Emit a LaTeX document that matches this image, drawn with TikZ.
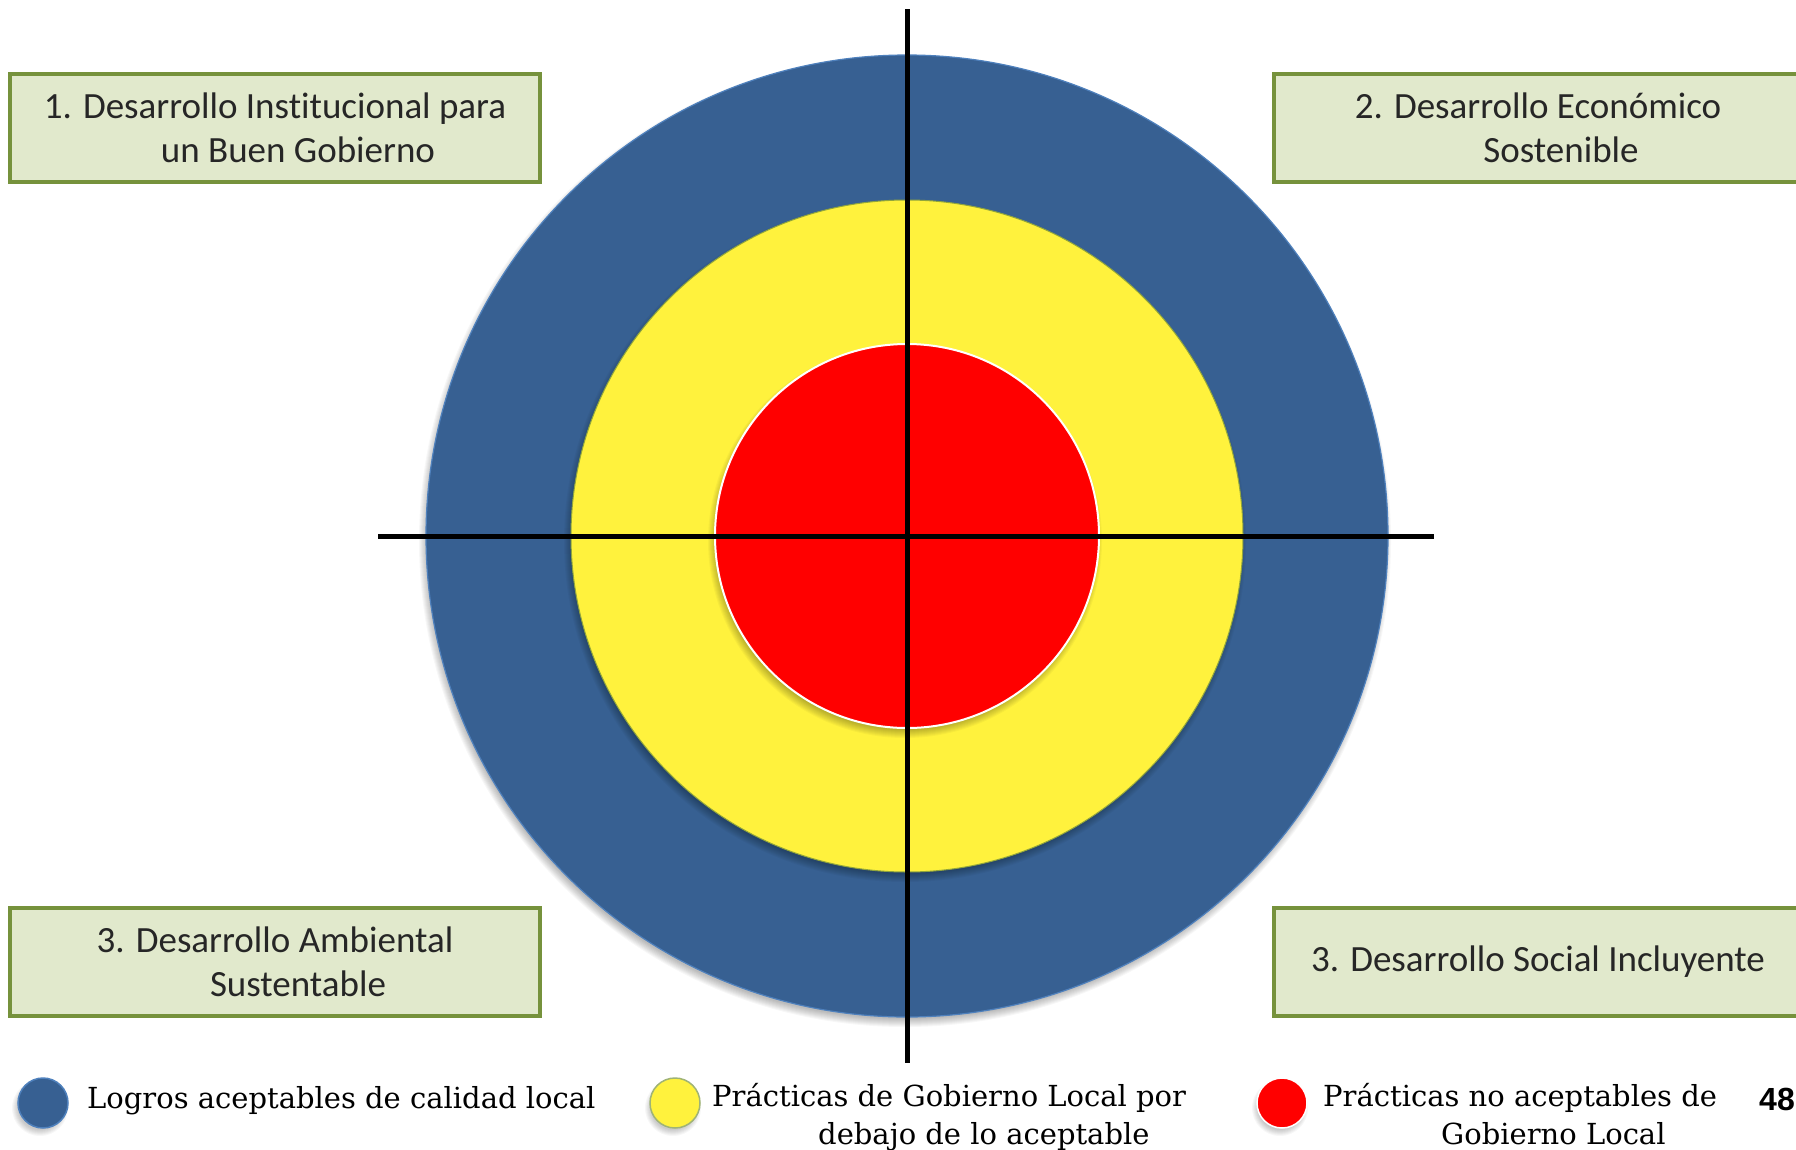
\documentclass[tikz,border=0pt]{standalone}
\usepackage{fontspec}
\setmainfont[Ligatures=NoCommon]{Carlito}
\newfontfamily\legfont{DejaVu Serif}
\newfontfamily\numfont{Liberation Sans}
\usetikzlibrary{positioning}
\definecolor{ringblue}{HTML}{376092}
\definecolor{ringblueedge}{HTML}{4F81BD}
\definecolor{ringyellow}{HTML}{FFF23D}
\definecolor{ringred}{HTML}{FF0000}
\definecolor{boxfill}{HTML}{E1E9CC}
\definecolor{boxedge}{HTML}{76923C}
\definecolor{txt}{HTML}{262626}
\newcommand{\softshade}[4]{% x y r spread
  \foreach \k in {0,...,#4} {\fill[black, opacity=0.03] (#1-2,#2+5) circle (#3+\k);}}
\tikzset{
  x=1pt,y=-1pt,
  areabox/.style={draw=boxedge, line width=4pt, fill=boxfill, minimum height=108pt,
    text=txt, font=\fontsize{37}{44}\selectfont, align=center, inner sep=0pt},
  legdot/.style={circle, minimum size=50pt, inner sep=0pt, line width=1.5pt},
  legtext/.style={font=\legfont\fontsize{29}{38}\selectfont, text=black, align=left, inner sep=0pt},
  axis/.style={line width=5pt, black},
}
\begin{document}
\begin{tikzpicture}
\useasboundingbox (0,0) rectangle (1796,1149);
\fill[white] (0,0) rectangle (1796,1149);
% rings with soft shadows
\softshade{907}{536}{478}{8}
\fill[ringblue, draw=ringblueedge, line width=1.2pt] (907,536) circle (481);
\softshade{907}{536}{333}{8}
\fill[ringyellow, draw=boxedge!80!ringyellow, line width=1pt] (907,536) circle (336);
\softshade{907}{536}{189}{8}
\fill[ringred, draw=white, line width=2pt] (907,536) circle (192);
\node[circle, minimum size=962pt, inner sep=0pt] (target) at (907,536) {};
% axes
\coordinate (vtop) at (907,9);
\coordinate (vbot) at (907,1063);
\coordinate (hleft) at (378,536);
\coordinate (hright) at (1434,536);
\draw[axis] (vtop) -- (vbot);
\draw[axis] (hleft) -- (hright);
% boxes
\node[areabox, minimum width=530pt] (b1) at (275,127.5) {1. Desarrollo Institucional para\\\hspace*{46pt}un Buen Gobierno};
\node[areabox, minimum width=528pt] (b2) at (1538,127.5) {2. Desarrollo Económico\\\hspace*{46pt}Sostenible};
\node[areabox, minimum width=530pt] (b3) at (275,961.5) {3. Desarrollo Ambiental\\\hspace*{46pt}Sustentable};
\node[areabox, minimum width=528pt] (b4) at (1538,961.5) {3. Desarrollo Social Incluyente};
% legend
\softshade{42}{1103}{22}{6}
\node[legdot, fill=ringblue, draw=ringblueedge] (l1) at (43,1103) {};
\softshade{675}{1103}{22}{6}
\node[legdot, fill=ringyellow, draw=boxedge!70] (l2) at (675,1103) {};
\softshade{1282}{1103}{22}{6}
\node[legdot, fill=ringred, draw=white] (l3) at (1282,1103) {};
\node[legtext, anchor=west] (t1) at (87,1101) {Logros aceptables de calidad local};
\node[legtext, anchor=north west] (t2) at (712,1083) {Prácticas de Gobierno Local por\\\hspace*{106pt}debajo de lo aceptable};
\node[legtext, anchor=north west] (t3) at (1323,1083) {Prácticas no aceptables de\\\hspace*{118pt}Gobierno Local};
\node[anchor=west, inner sep=0pt, font=\numfont\bfseries\fontsize{32}{38}\selectfont] (pg) at (1759,1099) {48};
\end{tikzpicture}
\end{document}
